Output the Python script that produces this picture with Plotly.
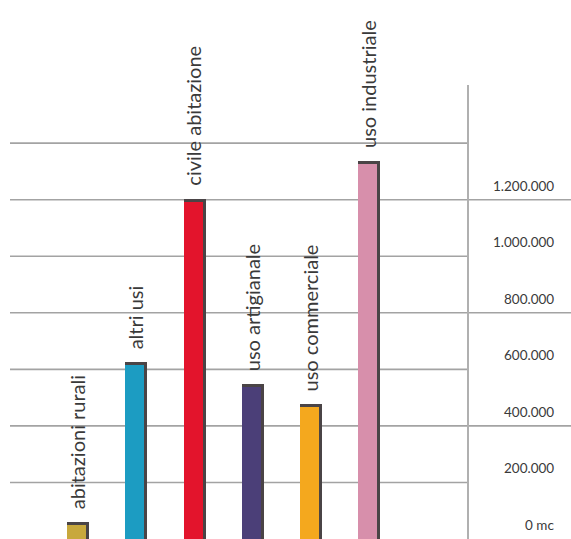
import plotly.graph_objects as go

categories = ["abitazioni rurali", "altri usi", "civile abitazione",
              "uso artigianale", "uso commerciale", "uso industriale"]
values = [60000, 626000, 1202000, 548000, 477000, 1337000]
colors = ["#c8a83c", "#1c9cc2", "#e3142c", "#4b3f78", "#f4a81e", "#d78fab"]
tick_values = [0, 200000, 400000, 600000, 800000, 1000000, 1200000, 1400000]
tick_labels = ["0 mc", "200.000", "400.000", "600.000", "800.000",
               "1.000.000", "1.200.000", ""]
long_lines = [400000, 800000, 1200000]

xs = list(range(len(categories)))
EDGE = 10600          # dark top edge thickness in data units (~3px)
W_FULL = 0.378
W_COL = 0.327

fig = go.Figure()
# dark shadow layer
fig.add_trace(go.Bar(x=xs, y=values, width=[W_FULL] * len(xs), offset=-W_FULL / 2,
                     marker=dict(color="#4a4446", line=dict(width=0)),
                     hoverinfo="skip", showlegend=False))
# colored layer
fig.add_trace(go.Bar(x=xs, y=[v - EDGE for v in values], width=[W_COL] * len(xs),
                     offset=-W_FULL / 2,
                     marker=dict(color=colors, line=dict(width=0)),
                     showlegend=False))

shapes = []
for v in tick_values[1:]:
    x1 = 1.0 if v in long_lines else 468 / 571
    shapes.append(dict(type="line", xref="paper", yref="y", x0=10 / 571, x1=x1,
                       y0=v, y1=v, line=dict(color="#a3a3a3", width=1.6), layer="below"))
# vertical axis line
shapes.append(dict(type="line", xref="paper", yref="y", x0=468 / 571, x1=468 / 571,
                   y0=0, y1=1606000, line=dict(color="#b0b0b0", width=2), layer="below"))

annotations = []
for v, t in zip(tick_values, tick_labels):
    if not t:
        continue
    annotations.append(dict(xref="paper", yref="y", x=556 / 571, y=v, text=t,
                            xanchor="right", yanchor="middle", yshift=14,
                            showarrow=False,
                            font=dict(family="Lato", size=13.5, color="#3a3a3a")))
for i, (c, v) in enumerate(zip(categories, values)):
    annotations.append(dict(xref="x", yref="y", x=i, y=v, text=c, textangle=-90,
                            xanchor="center", yanchor="bottom", yshift=11, xshift=-1,
                            showarrow=False,
                            font=dict(family="Lato", size=20, color="#3a3a3a")))

fig.update_layout(
    width=571, height=539,
    margin=dict(l=0, r=0, t=0, b=0),
    paper_bgcolor="white", plot_bgcolor="white",
    barmode="overlay", bargap=0,
    xaxis=dict(range=[-1.3446, 8.4732], visible=False, fixedrange=True),
    yaxis=dict(range=[0, 1906300], visible=False, fixedrange=True),
    shapes=shapes, annotations=annotations,
    showlegend=False,
)

fig.write_html("out.html")
